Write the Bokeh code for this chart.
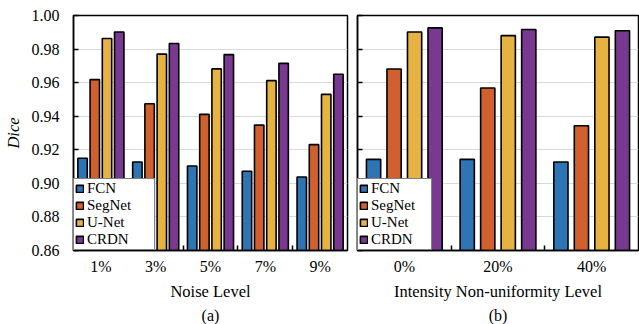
from bokeh.plotting import figure
from bokeh.layouts import row
from bokeh.models import FixedTicker, Legend, LegendItem, Title, ColumnDataSource
from bokeh.embed import file_html
from bokeh.resources import INLINE

series = ["FCN", "SegNet", "U-Net", "CRDN"]
colors = ["#2E75B6", "#D0602E", "#E6B343", "#7A3990"]

noise_levels = ["1%", "3%", "5%", "7%", "9%"]
noise_fcn = [0.915, 0.9127, 0.9103, 0.9072, 0.9038]
noise_segnet = [0.9618, 0.9474, 0.9411, 0.9347, 0.9231]
noise_unet = [0.9863, 0.977, 0.9682, 0.9612, 0.953]
noise_crdn = [0.9902, 0.9833, 0.9767, 0.9715, 0.965]

inu_levels = ["0%", "20%", "40%"]
inu_fcn = [0.9143, 0.9143, 0.9127]
inu_segnet = [0.9681, 0.9568, 0.9343]
inu_unet = [0.9902, 0.988, 0.9871]
inu_crdn = [0.9926, 0.9917, 0.9909]

y_ticks = [0.86, 0.88, 0.90, 0.92, 0.94, 0.96, 0.98, 1.00]
Y0, Y1 = 0.86, 1.00
FONT = "Liberation Serif"


def make_panel(levels, data, width, bar_w, step, xlabel, sub, show_ylabels, bl, br, lw):
    n = len(levels)
    p = figure(width=width, height=324, x_range=(0, n), y_range=(Y0, Y1),
               output_backend="svg", toolbar_location=None,
               min_border_left=bl, min_border_right=br, min_border_top=15,
               min_border_bottom=0)
    p.background_fill_color = "white"
    p.outline_line_color = "black"
    p.outline_line_width = 1.5
    p.xgrid.visible = False
    p.ygrid.grid_line_color = "#d9d9d9"
    p.ygrid.grid_line_width = 1.2

    items = []
    for k, (name, vals) in enumerate(zip(series, data)):
        xs = [i + 0.5 + (k - 1.5) * step for i in range(n)]
        src = ColumnDataSource(dict(x=xs, top=vals))
        r = p.vbar(x="x", top="top", bottom=Y0, width=bar_w, source=src,
                   fill_color=colors[k], line_color="black", line_width=1.6)
        items.append(LegendItem(label=name, renderers=[r]))

    xt = FixedTicker(ticks=[i + 0.5 for i in range(n)],
                     minor_ticks=[i for i in range(1, n)])
    p.xaxis.ticker = xt
    p.xaxis.major_label_overrides = {i + 0.5: lab for i, lab in enumerate(levels)}
    p.xaxis.major_tick_in = 0
    p.xaxis.major_tick_out = 0
    p.xaxis.minor_tick_in = 5
    p.xaxis.minor_tick_out = 0
    p.xaxis.minor_tick_line_color = "black"
    p.xaxis.minor_tick_line_width = 1.5
    p.xaxis.axis_line_color = "black"
    p.xaxis.axis_line_width = 1.5
    p.xaxis.major_label_text_font = FONT
    p.xaxis.major_label_text_font_size = "16px"
    p.xaxis.major_label_text_color = "black"
    p.xaxis.major_label_standoff = 7
    p.xaxis.axis_label = xlabel
    p.xaxis.axis_label_text_font = FONT
    p.xaxis.axis_label_text_font_size = "16.5px"
    p.xaxis.axis_label_text_font_style = "normal"
    p.xaxis.axis_label_text_color = "black"
    p.xaxis.axis_label_standoff = 4

    p.yaxis.ticker = FixedTicker(ticks=y_ticks)
    p.yaxis.major_tick_in = 5
    p.yaxis.major_tick_out = 0
    p.yaxis.minor_tick_in = 0
    p.yaxis.minor_tick_out = 0
    p.yaxis.major_tick_line_width = 1.5
    p.yaxis.axis_line_color = "black"
    p.yaxis.axis_line_width = 1.5
    if show_ylabels:
        p.yaxis.major_label_overrides = {t: f"{t:.2f}" for t in y_ticks}
        p.yaxis.major_label_text_font = FONT
        p.yaxis.major_label_text_font_size = "16px"
        p.yaxis.major_label_text_color = "black"
        p.yaxis.major_label_standoff = 14
        p.yaxis.axis_label = "Dice"
        p.yaxis.axis_label_text_font = FONT
        p.yaxis.axis_label_text_font_size = "16.5px"
        p.yaxis.axis_label_text_font_style = "italic"
        p.yaxis.axis_label_text_color = "black"
        p.yaxis.axis_label_standoff = 6
    else:
        p.yaxis.major_label_overrides = {t: "" for t in y_ticks}
        p.yaxis.major_label_standoff = 0

    t = Title(text=sub, align="center", text_font=FONT, text_font_size="16px",
              text_font_style="normal", text_color="black", standoff=2)
    p.add_layout(t, "below")

    leg = Legend(items=items, location="bottom_left")
    leg.label_text_font = FONT
    leg.label_text_font_size = "15px"
    leg.label_text_color = "black"
    leg.label_height = 15
    leg.label_standoff = 3
    leg.label_width = lw
    leg.glyph_height = 9
    leg.glyph_width = 9
    leg.spacing = 0
    leg.padding = 1
    leg.margin = 0
    leg.border_line_color = "black"
    leg.border_line_width = 1.5
    leg.background_fill_alpha = 1
    p.add_layout(leg, "center")
    return p


p1 = make_panel(noise_levels, [noise_fcn, noise_segnet, noise_unet, noise_crdn],
                352, 0.172, 0.223, "Noise Level", "(a)", True, 71, 5, 66)
p2 = make_panel(inu_levels, [inu_fcn, inu_segnet, inu_unet, inu_crdn],
                287, 0.152, 0.219, "Intensity Non-uniformity Level", "(b)", False, 5, 1, 59)

layout = row(p1, p2, spacing=0)
open("out.html", "w").write(file_html(layout, INLINE))
